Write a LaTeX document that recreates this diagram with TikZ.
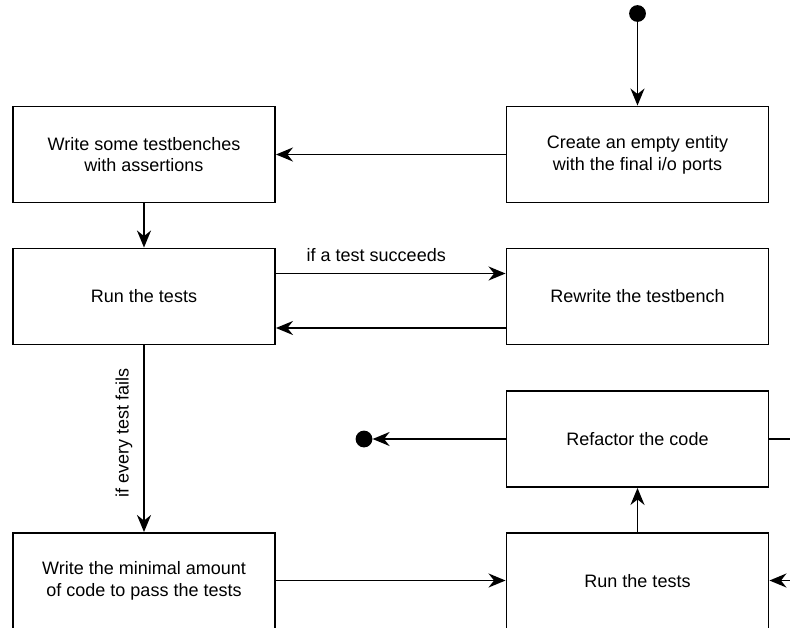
\documentclass[tikz,border=0pt]{standalone}
\usepackage{fontspec}
\setmainfont{Liberation Sans}
\usetikzlibrary{arrows.meta}

\begin{document}
\begin{tikzpicture}[x=1pt,y=-1pt,
  stepbox/.style={draw, line width=1.9pt, minimum width=262pt, minimum height=96pt,
    inner sep=0pt, align=center, font=\fontsize{18}{21.8}\selectfont},
  flow/.style={line width=1.8pt, -{Stealth[length=17pt,width=14pt,inset=5.5pt]}},
  plain/.style={line width=1.8pt},
  dot/.style={circle, fill=black, minimum size=16.8pt, inner sep=0pt},
  lbl/.style={font=\fontsize{18}{21.8}\selectfont, inner sep=0pt}]
\clip (0,0) rectangle (790,627);
\useasboundingbox (0,0) rectangle (790,627);

% process steps
\node[stepbox] (write)    at (144,154.5)   {Write some testbenches\\with assertions};
\node[stepbox] (entity)   at (637.5,154.5) {Create an empty entity\\with the final i/o ports};
\node[stepbox] (run)      at (144,296.5)   {Run the tests};
\node[stepbox] (rewrite)  at (637.5,296.5) {Rewrite the testbench};
\node[stepbox] (refactor) at (637.5,439)   {Refactor the code};
\node[stepbox] (code)     at (144,581)     {Write the minimal amount\\of code to pass the tests};
\node[stepbox] (rerun)    at (637.5,581)   {Run the tests};

% start and end states
\node[dot] (start) at (637.5,13.5) {};
\node[dot] (stop)  at (364,439) {};

% connections leaving the visible area
\coordinate (outR) at (800,439);
\coordinate (inR)  at (800,580.5);

\draw[flow] (start) -- (entity.north);
\draw[flow] (entity.west) -- (write.east);
\draw[flow] (write.south) -- (run.north);
\draw[flow] (run.east |- 0,273.5) -- (rewrite.west |- 0,273.5)
  node[lbl, midway, anchor=base, xshift=-14.5pt, yshift=12pt] {if a test succeeds};
\draw[flow] (rewrite.west |- 0,328) -- (run.east |- 0,328);
\draw[flow] (run.south) -- (code.north)
  node[lbl, pos=0.47, rotate=90, anchor=base, yshift=15.5pt] {if every test fails};
\draw[flow] (code.east |- 0,580.5) -- (rerun.west |- 0,580.5);
\draw[flow] (rerun.north) -- (refactor.south);
\draw[flow] (refactor.west) -- (stop);
\draw[plain] (refactor.east) -- (outR);
\draw[flow] (inR) -- (rerun.east |- inR);
\end{tikzpicture}
\end{document}
